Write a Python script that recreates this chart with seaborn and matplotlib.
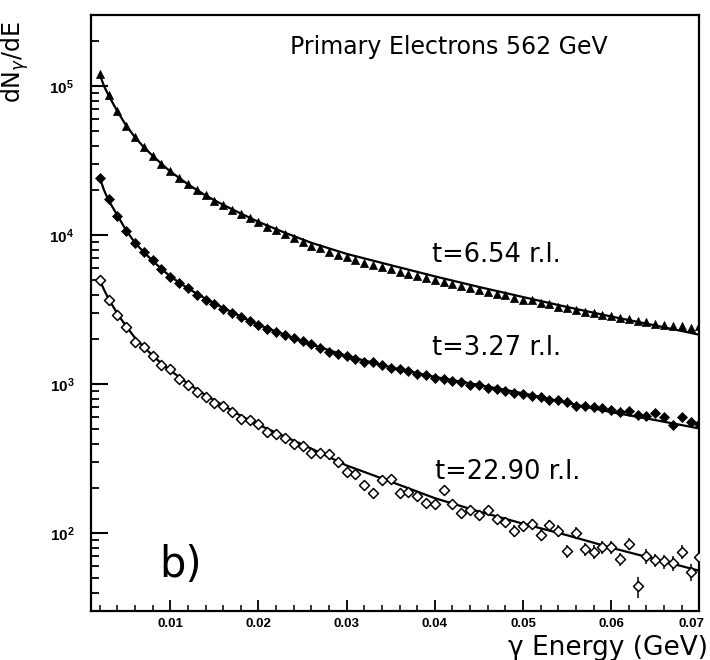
import numpy as np
import pandas as pd
import matplotlib
matplotlib.use("Agg")
import matplotlib.pyplot as plt
import matplotlib.ticker as mticker
import matplotlib.transforms as mtransforms
import seaborn as sns

# ---------------- data ----------------
energy = [round(0.002 + 0.001 * i, 3) for i in range(69)]  # 0.002 ... 0.070 GeV bins

y_t654 = [120000, 87000, 68500, 54500, 45500, 39000, 34000, 30200, 26800, 24300,
          22000, 20100, 18500, 17100, 15900, 14800, 13900, 13000, 12200, 11400,
          10800, 10200, 9600, 9000, 8500, 8200, 7700, 7400, 7100, 6850,
          6550, 6350, 6100, 5950, 5700, 5500, 5300, 5150, 5000, 4850,
          4700, 4550, 4400, 4300, 4150, 4050, 3950, 3800, 3700, 3650,
          3500, 3450, 3300, 3250, 3150, 3050, 3000, 2900, 2850, 2800,
          2750, 2650, 2600, 2550, 2500, 2450, 2450, 2400, 2450]

y_t327 = [24400, 17400, 13500, 10700, 8900, 7700, 6800, 5900, 5250, 4750,
          4400, 3950, 3700, 3450, 3200, 3000, 2830, 2650, 2500, 2350,
          2250, 2150, 2030, 1950, 1850, 1760, 1650, 1600, 1550, 1480,
          1420, 1400, 1350, 1290, 1260, 1220, 1170, 1150, 1100, 1090,
          1050, 1030, 990, 985, 950, 930, 900, 880, 860, 830,
          820, 790, 780, 760, 720, 710, 700, 690, 670, 650,
          660, 620, 610, 640, 600, 530, 600, 560, 540]

y_t2290 = [4990, 3700, 2900, 2430, 1920, 1780, 1540, 1340, 1260, 1090,
           985, 888, 815, 750, 711, 652, 589, 573, 545, 479,
           462, 438, 395, 385, 343, 346, 339, 301, 258, 251,
           212, 185, 227, 230, 185, 189, 177, 160, 157, 195,
           156, 137, 143, 132, 143, 124, 119, 104, 112, 115,
           98, 113, 104, 76, 101, 78, 75, 81, 81, 67,
           85, 44, 70, 66, 65, 63, 75, 55, 69]

err_t2290 = [60, 50, 40, 35, 30, 28, 25, 22, 21, 19,
             18, 17, 16, 15, 15, 14, 14, 13, 13, 12,
             12, 12, 11, 11, 11, 11, 11, 10, 10, 10,
             10, 10, 11, 11, 10, 10, 10, 10, 10, 11,
             10, 9, 10, 9, 10, 9, 9, 9, 9, 9,
             9, 9, 9, 8, 9, 8, 8, 8, 8, 7,
             8, 7, 8, 7, 7, 7, 8, 7, 8]

fit_energy = [0.002, 0.0025, 0.003, 0.004, 0.005, 0.006, 0.007, 0.008, 0.009, 0.010,
              0.012, 0.014, 0.016, 0.018, 0.020, 0.023, 0.026, 0.030, 0.035, 0.040,
              0.045, 0.050, 0.055, 0.060, 0.065, 0.070]
fit_t654 = [120000, 100000, 87000, 68000, 54500, 45500, 39000, 34200, 30200, 26800,
            22000, 18500, 16000, 14000, 12300, 10400, 8900, 7500, 6300, 5300,
            4500, 3850, 3300, 2850, 2480, 2150]
fit_t327 = [24400, 20000, 17200, 13600, 10800, 8900, 7700, 6750, 5950, 5300,
            4400, 3750, 3250, 2850, 2500, 2150, 1850, 1550, 1300, 1120,
            990, 870, 750, 650, 575, 505]
fit_t2290 = [5000, 4300, 3750, 2980, 2450, 2050, 1780, 1560, 1380, 1240,
             1010, 845, 720, 615, 535, 445, 370, 285, 222, 172,
             140, 116, 97, 80, 67, 56]

title_text = "Primary Electrons 562 GeV"
label_t654 = "t=6.54 r.l."
label_t327 = "t=3.27 r.l."
label_t2290 = "t=22.90 r.l."
panel_text = "b)"
x_label = "γ Energy (GeV)"
y_label = "dN$_\\gamma$/dE"
x_ticks = [0.01, 0.02, 0.03, 0.04, 0.05, 0.06, 0.07]

# ---------------- plot ----------------
sns.set_style("ticks")
plt.rcParams["font.family"] = ["DejaVu Sans"]
plt.rcParams.update({"text.color": "black", "axes.labelcolor": "black",
                     "xtick.color": "black", "ytick.color": "black",
                     "axes.edgecolor": "black", "mathtext.fontset": "dejavusans"})

fig = plt.figure(figsize=(7.1, 6.6), dpi=100)
ax = fig.add_axes([0.128, 0.074, 0.857, 0.903])

pts = pd.DataFrame({"E": energy, "t654": y_t654, "t327": y_t327, "t2290": y_t2290,
                    "err": err_t2290})
fit = pd.DataFrame({"E": fit_energy, "t654": fit_t654, "t327": fit_t327, "t2290": fit_t2290})

for col in ["t654", "t327", "t2290"]:
    sns.lineplot(data=fit, x="E", y=col, ax=ax, color="black", linewidth=1.6, sort=True)

ax.errorbar(pts["E"], pts["t2290"], yerr=pts["err"], fmt="none", ecolor="black",
            elinewidth=1.1, capsize=0, zorder=3)
sns.scatterplot(data=pts, x="E", y="t654", ax=ax, marker="^", s=34, color="black",
                edgecolor="black", linewidth=0.5, zorder=4)
sns.scatterplot(data=pts, x="E", y="t327", ax=ax, marker="D", s=26, color="black",
                edgecolor="black", linewidth=0.5, zorder=4)
sns.scatterplot(data=pts, x="E", y="t2290", ax=ax, marker="D", s=26, facecolor="white",
                edgecolor="black", linewidth=1.1, zorder=4)

ax.set_yscale("log")
ax.set_xlim(0.001, 0.07)
ax.set_ylim(30, 3.0e5)

ax.xaxis.set_major_locator(mticker.FixedLocator(x_ticks))
ax.xaxis.set_major_formatter(mticker.FormatStrFormatter("%.2f"))
ax.xaxis.set_minor_locator(mticker.MultipleLocator(0.002))
ax.yaxis.set_major_locator(mticker.LogLocator(base=10, numticks=10))
ax.yaxis.set_minor_locator(mticker.LogLocator(base=10, subs=np.arange(2, 10), numticks=20))
ax.yaxis.set_minor_formatter(mticker.NullFormatter())

ax.tick_params(axis="x", which="major", direction="in", length=8, width=1.3, pad=5,
               labelsize=9.5, top=False)
ax.tick_params(axis="x", which="minor", direction="in", length=4, width=1.1, top=False)
ax.tick_params(axis="y", which="major", direction="in", length=12, width=1.5, pad=12,
               labelsize=11, right=False)
ax.tick_params(axis="y", which="minor", direction="in", length=6, width=1.3, right=False)
for lab in ax.get_xticklabels() + ax.get_yticklabels():
    lab.set_fontweight("bold")
    lab.set_family(["Liberation Sans", "DejaVu Sans"])

# keep the last x tick label ("0.07") inside the figure edge
last_lab = ax.get_xticklabels()[-1]
last_lab.set_transform(last_lab.get_transform() +
                       mtransforms.ScaledTranslation(-6 / 72, 0, fig.dpi_scale_trans))

for sp in ax.spines.values():
    sp.set_linewidth(1.6)
    sp.set_visible(True)

ax.set_xlabel(x_label, fontsize=19, ha="right", va="center")
ax.xaxis.set_label_coords(1.014, -0.062)
ax.set_ylabel(y_label, fontsize=17, ha="center", va="center")
ax.yaxis.set_label_coords(-0.124, 0.922)

kw = dict(transform=ax.transAxes, ha="left", va="center")
ax.text(0.327, 0.946, title_text, fontsize=17, **kw)
ax.text(0.561, 0.597, label_t654, fontsize=18.5, **kw)
ax.text(0.561, 0.441, label_t327, fontsize=18.5, **kw)
ax.text(0.566, 0.233, label_t2290, fontsize=18.5, **kw)
ax.text(0.113, 0.077, panel_text, fontsize=30, **kw)

fig.savefig("out.png", dpi=100)
